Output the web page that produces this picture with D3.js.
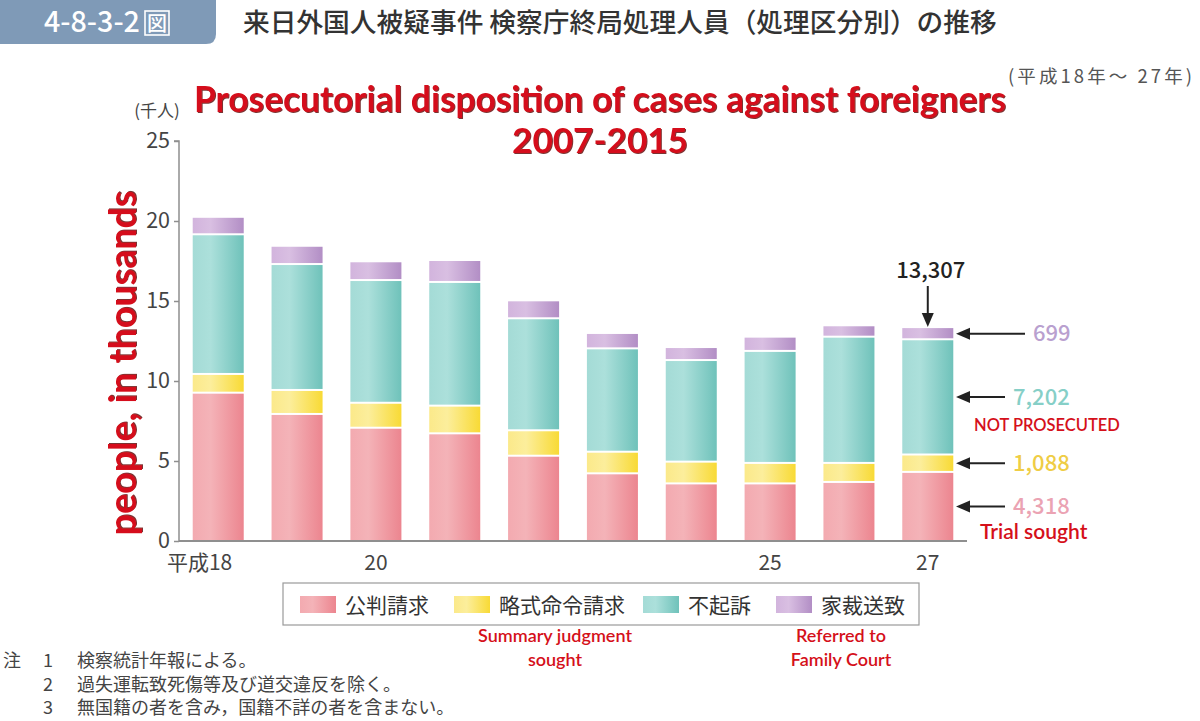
<!DOCTYPE html>
<html><head><meta charset="utf-8">
<script src="https://cdn.jsdelivr.net/npm/d3@7"></script>
<style>
html,body{margin:0;padding:0;background:#fff;}
svg{display:block;}
</style></head>
<body>
<script>
// ---- data (thousands of people) ----
const years = ["18","19","20","21","22","23","24","25","26","27"];
const yearLabels = {"18":"平成18","20":"20","25":"25","27":"27"};
const seriesNames = ["公判請求","略式命令請求","不起訴","家裁送致"];
const trialSought   = [9.27, 7.94, 7.08, 6.73, 5.33, 4.23, 3.60, 3.60, 3.69, 4.318];
const summarySought = [1.17, 1.50, 1.56, 1.73, 1.59, 1.35, 1.36, 1.28, 1.19, 1.088];
const notProsecuted = [8.73, 7.87, 7.67, 7.73, 7.00, 6.46, 6.35, 7.00, 7.89, 7.202];
const familyCourt   = [1.03, 1.08, 1.11, 1.31, 1.06, 0.90, 0.75, 0.83, 0.65, 0.699];
const yTicks = [0,5,10,15,20,25];
const lastLabels = ["4,318","1,088","7,202","699"];
const lastTotal = "13,307";
const englishNames = ["Trial sought","Summary judgment\nsought","NOT PROSECUTED","Referred to\nFamily Court"];

const W = 1200, H = 721;
const svg = d3.select("body").append("svg").attr("width", W).attr("height", H);
const defs = svg.append("defs");

const colors = [
  ["#f3aab0","#f4b3b8","#ec858f"],
  ["#fbe98a","#fcee9c","#f8da35"],
  ["#a4dbd6","#ace0db","#6fc2ba"],
  ["#d2b4dd","#d9bfe2","#b28ec5"]
];
colors.forEach((c,i)=>{
  const g = defs.append("linearGradient").attr("id","g"+i).attr("x1","0").attr("x2","1").attr("y1","0").attr("y2","0");
  g.append("stop").attr("offset","0%").attr("stop-color",c[0]);
  g.append("stop").attr("offset","35%").attr("stop-color",c[1]);
  g.append("stop").attr("offset","100%").attr("stop-color",c[2]);
});
const f = defs.append("filter").attr("id","sh").attr("x","-5%").attr("y","-20%").attr("width","110%").attr("height","150%");
f.append("feDropShadow").attr("dx",1).attr("dy",1).attr("stdDeviation",0.6).attr("flood-color","#5a0000").attr("flood-opacity",0.8);

const redC = "#d5101a";
const jp = "'Noto Sans CJK JP','Noto Sans',sans-serif";
const en = "Lato,'Open Sans',sans-serif";

function fitText(sel, target){
  const w = sel.node().getComputedTextLength();
  const fs = parseFloat(sel.attr("font-size"));
  sel.attr("font-size", fs*target/w);
}

// ---- header ----
svg.append("path").attr("d","M0,0 H216 V34 Q216,44 206,44 H0 Z").attr("fill","#7f9ab7");
const hn = svg.append("text").attr("x",44).attr("y",32).attr("fill","#fff").attr("font-family",jp)
  .attr("font-size",26).attr("font-weight",500).text("4-8-3-2");
fitText(hn, 96);
svg.append("rect").attr("x",145).attr("y",11).attr("width",24).attr("height",24).attr("fill","none").attr("stroke","#fff").attr("stroke-width",1.6);
svg.append("text").attr("x",157).attr("y",31).attr("text-anchor","middle").attr("fill","#fff").attr("font-family",jp)
  .attr("font-size",20).attr("font-weight",500).text("図");
const jt = svg.append("text").attr("x",243).attr("y",32).attr("fill","#333").attr("font-family",jp)
  .attr("font-size",26).attr("font-weight",500).text("来日外国人被疑事件 検察庁終局処理人員（処理区分別）の推移");
fitText(jt, 754);
svg.append("text").attr("x",1008).attr("y",83).attr("fill","#555").attr("font-family",jp)
  .attr("font-size",18.5).attr("textLength",184).attr("lengthAdjust","spacing").text("(平成18年～ 27年)");

// ---- scales ----
const x = d3.scaleBand().domain(years).range([179, 967]).paddingInner(0.353).paddingOuter(0.174);
const y = d3.scaleLinear().domain([0,25]).range([541,141]);

const rows = years.map((yr,i)=>({year:yr, s0:trialSought[i], s1:summarySought[i], s2:notProsecuted[i], s3:familyCourt[i]}));
const stack = d3.stack().keys(["s0","s1","s2","s3"]);
const stacked = stack(rows);

// ---- bars ----
stacked.forEach((layer,li)=>{
  svg.append("g").selectAll("rect").data(layer).join("rect")
    .attr("x", d=>x(d.data.year))
    .attr("width", x.bandwidth())
    .attr("y", d=> y(d[1]) + (li<3?1:0))
    .attr("height", d=> (y(d[0]) - (li>0?1:0)) - (y(d[1]) + (li<3?1:0)))
    .attr("fill","url(#g"+li+")");
});

// ---- axes ----
const axisC = "#8f8f8f";
const yAxis = svg.append("g").attr("transform","translate(179,0)")
  .call(d3.axisLeft(y).tickValues(yTicks).tickSize(5).tickPadding(4));
yAxis.select(".domain").attr("stroke",axisC).attr("stroke-width",1.5).attr("d","M-5,"+y(25)+"H0V"+y(0));
yAxis.selectAll(".tick line").attr("stroke",axisC).attr("stroke-width",1.5);
yAxis.selectAll(".tick text").attr("fill","#444").attr("font-family",jp).attr("font-size",21.5).attr("dy","0.28em");

svg.append("line").attr("x1",179).attr("x2",967).attr("y1",y(0)).attr("y2",y(0)).attr("stroke",axisC).attr("stroke-width",2);

const xg = svg.append("g");
years.forEach(yr=>{
  if(!yearLabels[yr]) return;
  xg.append("text").attr("x", x(yr)+x.bandwidth()/2 + (yr==="18"?14:0)).attr("y",570)
    .attr("text-anchor", yr==="18"?"end":"middle").attr("fill","#444").attr("font-family",jp).attr("font-size",21)
    .text(yearLabels[yr]);
});

svg.append("text").attr("x",157).attr("y",117).attr("text-anchor","middle").attr("fill","#444").attr("font-family",jp)
  .attr("font-size",17).text("(千人)");

// ---- red titles ----
const t1 = svg.append("text").attr("x",600).attr("y",112).attr("text-anchor","middle").attr("fill",redC)
  .attr("font-family",en).attr("font-weight",700).attr("font-size",30).attr("filter","url(#sh)")
  .text("Prosecutorial disposition of cases against foreigners");
fitText(t1, 812);
const t2 = svg.append("text").attr("x",600).attr("y",153).attr("text-anchor","middle").attr("fill",redC)
  .attr("font-family",en).attr("font-weight",700).attr("font-size",34).attr("filter","url(#sh)")
  .text("2007-2015");
fitText(t2, 176);
const yl = svg.append("text").attr("transform","translate(136,363) rotate(-90)").attr("text-anchor","middle").attr("fill",redC)
  .attr("font-family",en).attr("font-weight",700).attr("font-size",32).attr("filter","url(#sh)")
  .text("people, in thousands");
fitText(yl, 345);

// ---- right annotations ----
const last = rows[rows.length-1];
const lastX = x(last.year) + x.bandwidth()/2;
const labelColors = ["#eba3b3","#efcd45","#86cfc7","#b9a0cf"];
function arrowHead(x0,y0,dir){ // dir: 'left' or 'down'
  const p = dir==="left" ? [[x0,y0],[x0+14,y0-6],[x0+14,y0+6]] : [[x0,y0],[x0-6,y0-14],[x0+6,y0-14]];
  svg.append("path").attr("d","M"+p.map(q=>q.join(",")).join("L")+"Z").attr("fill","#222");
}
const totalTop = stacked[3][9][1];
svg.append("text").attr("x",lastX+3).attr("y",278).attr("text-anchor","middle").attr("fill","#222")
  .attr("font-family",jp).attr("font-size",22).attr("font-weight",500).text(lastTotal);
svg.append("line").attr("x1",lastX).attr("x2",lastX).attr("y1",286).attr("y2",y(totalTop)-12).attr("stroke","#222").attr("stroke-width",2);
arrowHead(lastX, y(totalTop)-1, "down");

stacked.forEach((layer,li)=>{
  const d = layer[9];
  const ym = y((d[0]+d[1])/2);
  const tail = li===3 ? 1025 : 1005;
  svg.append("line").attr("x1",968).attr("x2",tail).attr("y1",ym).attr("y2",ym).attr("stroke","#222").attr("stroke-width",2);
  arrowHead(956, ym, "left");
  svg.append("text").attr("x", tail+8).attr("y", ym).attr("dy","0.35em").attr("fill",labelColors[li])
    .attr("font-family",jp).attr("font-size",22).attr("font-weight",500).text(lastLabels[li]);
});
svg.append("text").attr("x",974).attr("y",431).attr("fill",redC).attr("font-family",en).attr("font-size",16.5)
  .attr("font-weight",600).text(englishNames[2]);
svg.append("text").attr("x",980).attr("y",539).attr("fill",redC).attr("font-family",en).attr("font-size",21)
  .attr("font-weight",600).text(englishNames[0]);

// ---- legend ----
svg.append("rect").attr("x",283).attr("y",583).attr("width",636).attr("height",42).attr("fill","#fff")
  .attr("stroke","#9a9a9a").attr("stroke-width",1.2);
const legX = [300, 454, 643, 776];
seriesNames.forEach((n,i)=>{
  svg.append("rect").attr("x",legX[i]).attr("y",596).attr("width",36).attr("height",17).attr("fill","url(#g"+i+")");
  svg.append("text").attr("x",legX[i]+45).attr("y",605).attr("dy","0.36em").attr("fill","#333").attr("font-family",jp)
    .attr("font-size",21).text(n);
});
function multiLine(txt, cx, y0){
  txt.split("\n").forEach((s,k)=>{
    svg.append("text").attr("x",cx).attr("y",y0+k*24).attr("text-anchor","middle").attr("fill",redC)
      .attr("font-family",en).attr("font-size",18).attr("font-weight",600).text(s);
  });
}
multiLine(englishNames[1], 555, 642);
multiLine(englishNames[3], 841, 642);

// ---- notes ----
const notes = ["検察統計年報による。","過失運転致死傷等及び道交違反を除く。","無国籍の者を含み，国籍不詳の者を含まない。"];
svg.append("text").attr("x",3).attr("y",667).attr("fill","#444").attr("font-family",jp).attr("font-size",18).text("注");
notes.forEach((s,i)=>{
  svg.append("text").attr("x",48).attr("y",667+i*23.5).attr("text-anchor","middle").attr("fill","#444").attr("font-family",jp).attr("font-size",18).text(String(i+1));
  svg.append("text").attr("x",77).attr("y",667+i*23.5).attr("fill","#444").attr("font-family",jp).attr("font-size",18).text(s);
});
</script>
</body></html>
